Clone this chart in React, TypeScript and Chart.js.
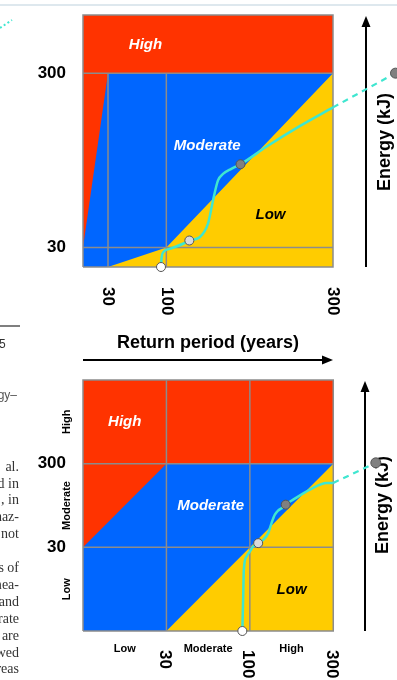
import React, { useEffect, useRef } from 'react';
import { Chart, registerables } from 'chart.js';
Chart.register(...registerables);

const RED = '#FF3300';
const BLUE = '#0066FF';
const YELLOW = '#FFCC00';
const GRID = '#8C8C8C';
const CYAN = '#3FE6D0';
const SANS = '"Liberation Sans", Arial, sans-serif';
const SERIF = '"Liberation Serif", "Times New Roman", serif';

// ---------- Top panel (linear axes: return period in years, energy in kJ) ----------
const topXRange = [0, 376.8];
const topYRange = [0, 390];
const topXTicks = [30, 100, 300];
const topYTicks = [30, 300];
const topHighBandX = [0, 300];
const topHighBandY = [390, 390]; // filled down to 300
const topModerateX = [0, 300];
const topModerateY = [300, 300]; // filled down to 0
const topHighWedgeX = [0, 30];
const topHighWedgeY = [30, 300]; // filled up to 300
const topLowEdgeX = [30, 100, 300];
const topLowEdgeY = [0, 30, 300]; // filled down to 0
const topPathX = [93.6, 94.4, 96.4, 104, 120, 127.6, 140, 150, 156, 162, 168, 178, 189, 220, 260, 300];
const topPathY = [0, 15, 23, 28, 36, 41, 46, 67, 103, 134, 144, 152, 159, 186, 218, 247];
const topDashX = [300, 375];
const topDashY = [247, 300];
const topPointX = [93.6, 127.6, 189, 375];
const topPointY = [0, 41, 159, 300];
const topLabels = ['High', 'Moderate', 'Low'];
const topLabelX = [75, 149, 225];
const topLabelY = [344, 188, 81];

// ---------- Bottom panel (class axes 0..3) ----------
const botXRange = [0, 3.764];
const botYRange = [0, 3];
const botXTicks = [1, 2, 3];
const botXTickText = ['30', '100', '300'];
const botYTicks = [1, 2];
const botYTickText = ['30', '300'];
const botClassPos = [0.5, 1.5, 2.5];
const botClassText = ['Low', 'Moderate', 'High'];
const botHighBandX = [0, 3];
const botHighBandY = [3, 3]; // filled down to 2
const botModerateX = [0, 3];
const botModerateY = [2, 2]; // filled down to 0
const botHighWedgeX = [0, 1];
const botHighWedgeY = [1, 2]; // filled up to 2
const botLowEdgeX = [1, 3];
const botLowEdgeY = [0, 2]; // filled down to 0
const botPathX = [1.91, 1.92, 1.928, 1.96, 2.0, 2.04, 2.1, 2.16, 2.22, 2.26, 2.3, 2.34, 2.4, 2.43, 2.52, 2.72, 2.92, 3.0];
const botPathY = [0, 0.4, 0.73, 0.89, 0.95, 1.01, 1.05, 1.09, 1.17, 1.29, 1.39, 1.44, 1.48, 1.51, 1.57, 1.69, 1.77, 1.77];
const botDashX = [3.0, 3.51];
const botDashY = [1.77, 2.01];
const botPointX = [1.91, 2.1, 2.43, 3.51];
const botPointY = [0, 1.05, 1.51, 2.01];
const botLabels = ['High', 'Moderate', 'Low'];
const botLabelX = [0.5, 1.53, 2.5];
const botLabelY = [2.5, 1.5, 0.49];

const pointFills = ['#FFFFFF', '#D9D9D9', '#808080', '#808080'];
const pointRadii = [4.5, 4.5, 4.5, 5];

const paperLines = ['al.', 'd in', ', in', 'haz-', 'not', '', 's of', 'mea-', 'and', 'rate', 'are', 'wed', 'reas'];

const pts = (xs: number[], ys: number[]) => xs.map((x, i) => ({ x, y: ys[i] }));

function fillSet(data: any[], fill: any, color: string, order: number) {
  return {
    data, fill, backgroundColor: color, borderColor: 'rgba(0,0,0,0)', borderWidth: 0,
    pointRadius: 0, order, tension: 0, clip: false,
  };
}
function lineSet(data: any[], color: string, width: number, order: number, extra: any = {}) {
  return {
    data, fill: false, borderColor: color, borderWidth: width, pointRadius: 0, order, clip: false, ...extra,
  };
}

function text(ctx: CanvasRenderingContext2D, s: string, x: number, y: number, font: string, color: string,
  align: CanvasTextAlign = 'center', base: CanvasTextBaseline = 'middle', rot = 0) {
  ctx.save();
  ctx.translate(x, y);
  ctx.rotate(rot);
  ctx.font = font;
  ctx.fillStyle = color;
  ctx.textAlign = align;
  ctx.textBaseline = base;
  ctx.fillText(s, 0, 0);
  ctx.restore();
}

function arrow(ctx: CanvasRenderingContext2D, x1: number, y1: number, x2: number, y2: number) {
  const a = Math.atan2(y2 - y1, x2 - x1);
  const L = 11, W = 4.5;
  ctx.save();
  ctx.strokeStyle = '#000';
  ctx.fillStyle = '#000';
  ctx.lineWidth = 2;
  ctx.beginPath();
  ctx.moveTo(x1, y1);
  ctx.lineTo(x2 - L * Math.cos(a), y2 - L * Math.sin(a));
  ctx.stroke();
  ctx.beginPath();
  ctx.moveTo(x2, y2);
  ctx.lineTo(x2 - L * Math.cos(a) - W * Math.sin(a), y2 - L * Math.sin(a) + W * Math.cos(a));
  ctx.lineTo(x2 - L * Math.cos(a) + W * Math.sin(a), y2 - L * Math.sin(a) - W * Math.cos(a));
  ctx.closePath();
  ctx.fill();
  ctx.restore();
}

const baseOptions = (padding: any, xr: number[], yr: number[]) => ({
  responsive: false,
  animation: false as const,
  devicePixelRatio: 1,
  events: [] as any[],
  layout: { padding, autoPadding: false },
  plugins: { legend: { display: false }, tooltip: { enabled: false } },
  scales: {
    x: { type: 'linear' as const, min: xr[0], max: xr[1], display: false },
    y: { type: 'linear' as const, min: yr[0], max: yr[1], display: false },
  },
});

function pointSet(xs: number[], ys: number[], order: number) {
  return {
    data: pts(xs, ys), showLine: false, fill: false, pointRadius: pointRadii,
    pointBackgroundColor: pointFills, pointBorderColor: '#555', pointBorderWidth: 1,
    borderColor: 'rgba(0,0,0,0)', order, clip: false,
  };
}

function gridSets(vs: number[], hs: number[], lo: number, hi: number, order: number) {
  const out: any[] = [];
  vs.forEach(v => out.push(lineSet([{ x: v, y: lo }, { x: v, y: hi }], GRID, 1.5, order)));
  hs.forEach(h => out.push(lineSet([{ x: lo, y: h }, { x: hi, y: h }], GRID, 1.5, order)));
  return out;
}

function topConfig(): any {
  const datasets = [
    fillSet(pts(topHighBandX, topHighBandY), { value: 300 }, RED, 100),
    fillSet(pts(topModerateX, topModerateY), 'origin', BLUE, 99),
    fillSet(pts(topHighWedgeX, topHighWedgeY), { value: 300 }, RED, 98),
    fillSet(pts(topLowEdgeX, topLowEdgeY), 'origin', YELLOW, 97),
    ...gridSets([30, 100], [30, 300], 0, 300, 50),
    lineSet([{ x: 0, y: 0 }, { x: 0, y: 390 }, { x: 300, y: 390 }, { x: 300, y: 0 }, { x: 0, y: 0 }], GRID, 1.5, 49),
    lineSet(pts(topDashX, topDashY), CYAN, 2.2, 11, { borderDash: [6, 5] }),
    lineSet(pts(topPathX, topPathY), CYAN, 2.5, 10, { cubicInterpolationMode: 'monotone' }),
    pointSet(topPointX, topPointY, 1),
  ];
  const plugin = {
    id: 'topDeco',
    beforeDatasetsDraw(chart: any) {
      const { ctx } = chart;
      arrow(ctx, 366, 267, 366, 16);
      text(ctx, 'Energy (kJ)', 385, 142, `bold 18px ${SANS}`, '#000', 'center', 'middle', -Math.PI / 2);
    },
    afterDraw(chart: any) {
      const { ctx, scales: { x, y } } = chart;
      const bold17 = `bold 17px ${SANS}`;
      topYTicks.forEach(v => text(ctx, String(v), 66, y.getPixelForValue(v), bold17, '#000', 'right'));
      topXTicks.forEach(v => text(ctx, String(v), x.getPixelForValue(v), 287, bold17, '#000', 'left', 'middle', Math.PI / 2));
      const f = `italic bold 15px ${SANS}`;
      topLabels.forEach((s, i) => text(ctx, s, x.getPixelForValue(topLabelX[i]), y.getPixelForValue(topLabelY[i]), f,
        s === 'Low' ? '#000' : '#FFFFFF'));
      // surrounding page fragments
      ctx.save();
      ctx.strokeStyle = '#D3E0E8';
      ctx.lineWidth = 1.5;
      ctx.beginPath(); ctx.moveTo(0, 5); ctx.lineTo(397, 5); ctx.stroke();
      ctx.strokeStyle = CYAN;
      ctx.lineWidth = 2;
      ctx.setLineDash([2, 2.5]);
      ctx.beginPath(); ctx.moveTo(0, 28); ctx.lineTo(12, 20); ctx.stroke();
      ctx.setLineDash([]);
      ctx.strokeStyle = '#555';
      ctx.lineWidth = 1.5;
      ctx.beginPath(); ctx.moveTo(0, 326); ctx.lineTo(20, 326); ctx.stroke();
      ctx.restore();
      text(ctx, '5', -1, 345, `12px ${SANS}`, '#333', 'left');
      text(ctx, 'ergy–', 17, 396, `12px ${SANS}`, '#555', 'right');
      paperLines.forEach((s, i) => {
        if (s) text(ctx, s, 19, 467 + i * 16.9, `14px ${SERIF}`, '#333', 'right');
      });
    },
  };
  return {
    type: 'line',
    data: { datasets },
    options: baseOptions({ left: 83, top: 15, right: 0, bottom: 413 }, topXRange, topYRange),
    plugins: [plugin],
  };
}

function botConfig(): any {
  const datasets = [
    fillSet(pts(botHighBandX, botHighBandY), { value: 2 }, RED, 100),
    fillSet(pts(botModerateX, botModerateY), 'origin', BLUE, 99),
    fillSet(pts(botHighWedgeX, botHighWedgeY), { value: 2 }, RED, 98),
    fillSet(pts(botLowEdgeX, botLowEdgeY), 'origin', YELLOW, 97),
    ...gridSets([1, 2], [1, 2], 0, 3, 50),
    lineSet([{ x: 0, y: 0 }, { x: 0, y: 3 }, { x: 3, y: 3 }, { x: 3, y: 0 }, { x: 0, y: 0 }], GRID, 1.5, 49),
    lineSet(pts(botDashX, botDashY), CYAN, 2.2, 11, { borderDash: [6, 5] }),
    lineSet(pts(botPathX, botPathY), CYAN, 2.5, 10, { cubicInterpolationMode: 'monotone' }),
    pointSet(botPointX, botPointY, 1),
  ];
  const plugin = {
    id: 'botDeco',
    beforeDatasetsDraw(chart: any) {
      const { ctx } = chart;
      arrow(ctx, 83, 360, 333, 360);
      arrow(ctx, 365, 631, 365, 381);
      text(ctx, 'Energy (kJ)', 383, 505, `bold 18px ${SANS}`, '#000', 'center', 'middle', -Math.PI / 2);
    },
    afterDraw(chart: any) {
      const { ctx, scales: { x, y } } = chart;
      const bold17 = `bold 17px ${SANS}`;
      botYTicks.forEach((v, i) => text(ctx, botYTickText[i], 66, y.getPixelForValue(v), bold17, '#000', 'right'));
      botXTicks.forEach((v, i) => text(ctx, botXTickText[i], x.getPixelForValue(v) - 2, 650, bold17, '#000', 'left', 'middle', Math.PI / 2));
      const small = `bold 11px ${SANS}`;
      botClassPos.forEach((v, i) => {
        text(ctx, botClassText[i], x.getPixelForValue(v), 649, small, '#000');
        text(ctx, botClassText[i], 67, y.getPixelForValue(v), small, '#000', 'center', 'middle', -Math.PI / 2);
      });
      const f = `italic bold 15px ${SANS}`;
      botLabels.forEach((s, i) => text(ctx, s, x.getPixelForValue(botLabelX[i]), y.getPixelForValue(botLabelY[i]), f,
        s === 'Low' ? '#000' : '#FFFFFF'));
      text(ctx, 'Return period (years)', 208, 343, `bold 18px ${SANS}`, '#000');
    },
  };
  return {
    type: 'line',
    data: { datasets },
    options: baseOptions({ left: 83, top: 380, right: 0, bottom: 49 }, botXRange, botYRange),
    plugins: [plugin],
  };
}

export default function App() {
  const topRef = useRef<HTMLCanvasElement>(null);
  const botRef = useRef<HTMLCanvasElement>(null);
  useEffect(() => {
    const c1 = new Chart(topRef.current as HTMLCanvasElement, topConfig());
    const c2 = new Chart(botRef.current as HTMLCanvasElement, botConfig());
    return () => { c1.destroy(); c2.destroy(); };
  }, []);
  const st: React.CSSProperties = { position: 'absolute', left: 0, top: 0, width: 397, height: 680, display: 'block' };
  return (
    <div style={{ position: 'fixed', left: 0, top: 0, width: 397, height: 680, background: '#fff', overflow: 'hidden' }}>
      <canvas ref={topRef} width={397} height={680} style={st} />
      <canvas ref={botRef} width={397} height={680} style={st} />
    </div>
  );
}
